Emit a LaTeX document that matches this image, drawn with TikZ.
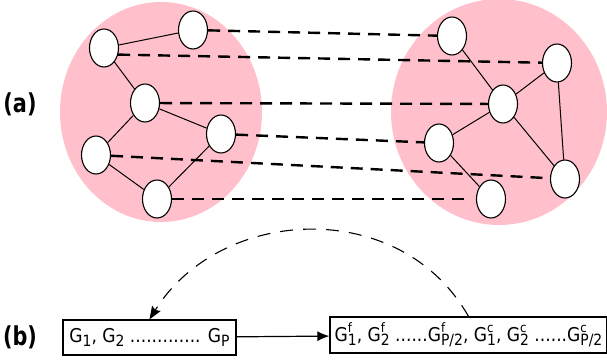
\documentclass[tikz,border=0pt]{standalone}
\usepackage{fontspec}
\setmainfont{DejaVu Sans}
\newfontfamily\boxfont[FakeStretch=0.9]{DejaVu Sans}
\newfontfamily\panelfont[FakeStretch=0.8]{DejaVu Sans}
\usetikzlibrary{shapes.geometric,arrows.meta}
\definecolor{blobpink}{RGB}{255,192,203}

\newcommand{\subsz}{\fontsize{15.5}{16}\selectfont}
\newcommand{\supsz}{\fontsize{13}{14}\selectfont}
\newcommand{\gsb}[1]{G\raisebox{-3.5pt}{\subsz #1}}
\newcommand{\gsp}[2]{G\makebox[0pt][l]{\raisebox{8.5pt}{\supsz #1}}\raisebox{-4pt}{\subsz #2}}

\tikzset{
  vert/.style={draw, ellipse, fill=white, line width=1.1pt,
    minimum width=29pt, minimum height=38pt, inner sep=0pt},
  link/.style={line width=1pt},
  match/.style={line width=2.4pt, dash pattern=on 12pt off 8pt},
  seqbox/.style={draw, line width=1.2pt, inner sep=1pt,
    font=\boxfont\fontsize{19}{22}\selectfont},
  panel/.style={font=\panelfont\bfseries\fontsize{26}{30}\selectfont}
}

\begin{document}
\begin{tikzpicture}[x=1pt,y=-1pt]
  \useasboundingbox (0,0) rectangle (607,363);

  % Fondos rosados
  \fill[blobpink] (161,112) ellipse [x radius=101pt, y radius=110pt];
  \fill[blobpink] (499,112) ellipse [x radius=108pt, y radius=113pt];

  % Grafo izquierdo
  \node[vert] (l1) at (104,48) {};
  \node[vert] (l2) at (193,30) {};
  \node[vert] (l3) at (145,103) {};
  \node[vert] (l4) at (221,134) {};
  \node[vert] (l5) at (96,155) {};
  \node[vert] (l6) at (157,199) {};

  % Grafo derecho
  \node[vert] (r1) at (452,36) {};
  \node[vert] (r2) at (557,63) {};
  \node[vert] (r3) at (503,104) {};
  \node[vert] (r4) at (439,143) {};
  \node[vert] (r5) at (565,179) {};
  \node[vert] (r6) at (491,199) {};

  % Aristas
  \draw[link] (l1) -- (l2);
  \draw[link] (l1) -- (l3);
  \draw[link] (l3) -- (l4);
  \draw[link] (l3) -- (l5);
  \draw[link] (l5) -- (l6);
  \draw[link] (l6) -- (l4);
  \draw[link] (r1) -- (r3);
  \draw[link] (r3) -- (r2);
  \draw[link] (r2) -- (r5);
  \draw[link] (r3) -- (r5);
  \draw[link] (r3) -- (r4);
  \draw[link] (r4) -- (r6);

  % Correspondencias
  \draw[match] (l2) -- (r1);
  \draw[match] (l1.-25) -- (r2);
  \draw[match] (l3) -- (r3);
  \draw[match] (l4) -- (r4);
  \draw[match] (l5) -- (r5);
  \draw[match, shorten >=10pt] (l6) -- (r6);

  % Etiquetas
  \node[panel] (lbla) at (20,104) {(a)};
  \node[panel] (lblb) at (20,337) {(b)};

  % Secuencias
  \node[seqbox, minimum width=173pt, minimum height=35pt] (seqa) at (149.5,337.5)
    {\gsb{1}, \gsb{2} ............. \gsb{P}};
  \node[seqbox, minimum width=277pt, minimum height=36pt] (seqb) at (468.5,335)
    {\gsp{f}{1}, \gsp{f}{2} ......\gsp{f}{P/2}, \gsp{c}{1}, \gsp{c}{2} ......\gsp{c}{P/2}};

  \draw[line width=1.2pt, -{Latex[length=12pt,width=10pt]}] (seqa) -- (seqb);
  \draw[line width=1.1pt, dash pattern=on 13pt off 10pt, -{Stealth[length=13pt,width=10pt,inset=2pt]}]
    (seqb.north) .. controls (400,196) and (220,206) .. (seqa.north);
\end{tikzpicture}
\end{document}
